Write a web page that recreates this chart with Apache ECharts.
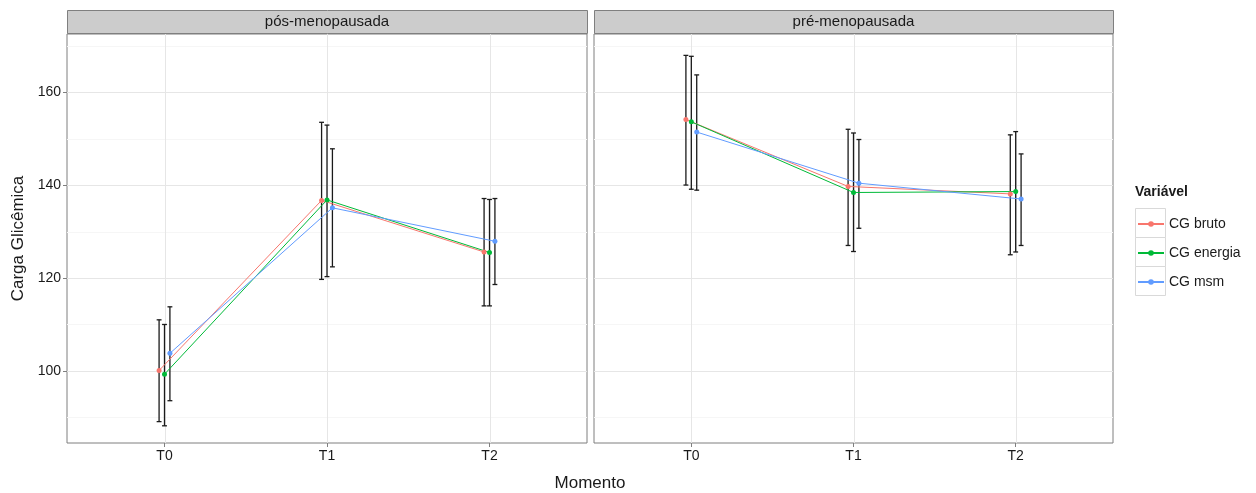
<!DOCTYPE html>
<html>
<head>
<meta charset="utf-8">
<script src="https://cdn.jsdelivr.net/npm/echarts@6/dist/echarts.min.js"></script>
<style>
html,body{margin:0;padding:0;background:#fff}
#chart{width:1256px;height:493px}
</style>
</head>
<body>
<div id="chart"></div>
<script>
// Categories
const momentos = ['T0', 'T1', 'T2'];
const grupos = ['pós-menopausada', 'pré-menopausada'];
const variaveis = ['CG bruto', 'CG energia', 'CG msm'];
const cores = ['#F8766D', '#00BA38', '#619CFF'];

// Y axis breaks
const yMajor = [100, 120, 140, 160];
const yMinor = [90, 110, 130, 150, 170];

// pós-menopausada: mean and interval limits
const posBrutoMedia = [100.1, 136.7, 125.6];
const posBrutoInf   = [89.1, 119.7, 114.0];
const posBrutoSup   = [111.0, 153.5, 137.1];
const posEnergiaMedia = [99.3, 136.8, 125.5];
const posEnergiaInf   = [88.2, 120.3, 114.0];
const posEnergiaSup   = [110.0, 152.9, 136.9];
const posMsmMedia = [103.8, 135.1, 127.9];
const posMsmInf   = [93.6, 122.4, 118.6];
const posMsmSup   = [113.8, 147.8, 137.1];

// pré-menopausada: mean and interval limits
const preBrutoMedia = [154.1, 139.7, 138.1];
const preBrutoInf   = [140.0, 127.0, 125.0];
const preBrutoSup   = [167.9, 152.0, 150.8];
const preEnergiaMedia = [153.6, 138.4, 138.6];
const preEnergiaInf   = [139.1, 125.7, 125.6];
const preEnergiaSup   = [167.7, 151.2, 151.5];
const preMsmMedia = [151.4, 140.4, 137.0];
const preMsmInf   = [138.9, 130.7, 127.0];
const preMsmSup   = [163.7, 149.8, 146.7];

const painelDados = [
  [[posBrutoMedia, posBrutoInf, posBrutoSup],
   [posEnergiaMedia, posEnergiaInf, posEnergiaSup],
   [posMsmMedia, posMsmInf, posMsmSup]],
  [[preBrutoMedia, preBrutoInf, preBrutoSup],
   [preEnergiaMedia, preEnergiaInf, preEnergiaSup],
   [preMsmMedia, preMsmInf, preMsmSup]]
];

// layout
const PANEL_TOP = 34, PANEL_H = 409;
const panels = [{left: 67, width: 520}, {left: 594, width: 519}];
const DODGE = 0.1;          // total dodge width in category units
const ERR_W = 0.03;         // error bar cap width in category units
const FONT = '"Liberation Sans", Arial, sans-serif';
const TXT = '#1a1a1a';

const chart = echarts.init(document.getElementById('chart'), null, {renderer: 'canvas'});

const grid = panels.map(p => ({
  left: p.left, top: PANEL_TOP, width: p.width, height: PANEL_H,
  show: true, backgroundColor: '#fff', borderColor: '#7f7f7f', borderWidth: 1,
  containLabel: false
}));

const xAxis = panels.map((p, k) => ({
  type: 'value', gridIndex: k, min: 0.4, max: 3.6,
  axisLine: {show: false},
  splitLine: {show: false},
  axisTick: {show: true, length: 4, customValues: [1, 2, 3], lineStyle: {color: '#7f7f7f'}},
  axisLabel: {
    customValues: [1, 2, 3], margin: 6,
    formatter: v => momentos[Math.round(v) - 1],
    fontSize: 14, color: TXT, fontFamily: FONT
  }
}));

const yAxis = panels.map((p, k) => ({
  type: 'value', gridIndex: k, min: 84.5, max: 172.5,
  axisLine: {show: false},
  splitLine: {show: false},
  axisTick: {show: k === 0, length: 4, customValues: yMajor, lineStyle: {color: '#7f7f7f'}},
  axisLabel: {
    show: k === 0, customValues: yMajor, margin: 6,
    fontSize: 14, color: TXT, fontFamily: FONT
  },
  name: k === 0 ? 'Carga Glicêmica' : '',
  nameLocation: 'middle', nameGap: 40, nameRotate: 90,
  nameTextStyle: {fontSize: 17, color: TXT, fontFamily: FONT}
}));

// panel gridlines drawn through the axis scales
function gridRender(params, api) {
  const cs = params.coordSys;
  const v = api.value(0), dir = api.value(1), major = api.value(2);
  const style = {stroke: major ? '#e6e6e6' : '#f6f6f6', lineWidth: 1};
  if (dir === 0) {
    const y = Math.round(api.coord([2, v])[1]) + 0.5;
    return {type: 'line', shape: {x1: cs.x, y1: y, x2: cs.x + cs.width, y2: y}, style};
  }
  const x = Math.round(api.coord([v, 100])[0]) + 0.5;
  return {type: 'line', shape: {x1: x, y1: cs.y, x2: x, y2: cs.y + cs.height}, style};
}

function errRender(params, api) {
  const x = api.value(0), lo = api.value(1), hi = api.value(2);
  const pLo = api.coord([x, lo]), pHi = api.coord([x, hi]);
  const half = api.size([ERR_W, 0])[0] / 2;
  const st = {stroke: '#1a1a1a', lineWidth: 1.3};
  return {type: 'group', children: [
    {type: 'line', shape: {x1: pLo[0], y1: pLo[1], x2: pHi[0], y2: pHi[1]}, style: st},
    {type: 'line', shape: {x1: pHi[0] - half, y1: pHi[1], x2: pHi[0] + half, y2: pHi[1]}, style: st},
    {type: 'line', shape: {x1: pLo[0] - half, y1: pLo[1], x2: pLo[0] + half, y2: pLo[1]}, style: st}
  ]};
}

const series = [];
panels.forEach((p, k) => {
  const gdata = [];
  yMinor.forEach(v => gdata.push([v, 0, 0]));
  yMajor.forEach(v => gdata.push([v, 0, 1]));
  [1, 2, 3].forEach(v => gdata.push([v, 1, 1]));
  series.push({
    type: 'custom', xAxisIndex: k, yAxisIndex: k, silent: true, z: 0,
    renderItem: gridRender, data: gdata, encode: {x: -1, y: -1}, clip: false
  });
  variaveis.forEach((nome, j) => {
    const [media, inf, sup] = painelDados[k][j];
    const off = (j - 1) * DODGE / 3;
    series.push({
      type: 'custom', xAxisIndex: k, yAxisIndex: k, silent: true, z: 1,
      renderItem: errRender,
      data: momentos.map((m, i) => [i + 1 + off, inf[i], sup[i]]),
      encode: {x: 0, y: [1, 2]}
    });
    series.push({
      type: 'line', name: nome, xAxisIndex: k, yAxisIndex: k, z: 2,
      data: momentos.map((m, i) => [i + 1 + off, media[i]]),
      color: cores[j],
      lineStyle: {width: 1, color: cores[j]},
      symbol: 'circle', symbolSize: 5, showSymbol: true,
      itemStyle: {color: cores[j]},
      animation: false
    });
  });
});

const graphic = [];
panels.forEach((p, k) => {
  graphic.push({
    type: 'rect', shape: {x: p.left + 0.5, y: 10.5, width: p.width, height: 23},
    style: {fill: '#cccccc', stroke: '#7f7f7f', lineWidth: 1}
  });
  graphic.push({
    type: 'text', x: p.left + p.width / 2, y: 22,
    style: {text: grupos[k], fill: TXT, font: '15px ' + FONT, align: 'center', verticalAlign: 'middle'}
  });
});
graphic.push({
  type: 'text', x: 590, y: 483,
  style: {text: 'Momento', fill: TXT, font: '17px ' + FONT, align: 'center', verticalAlign: 'middle'}
});
graphic.push({
  type: 'text', x: 1135, y: 192,
  style: {text: 'Variável', fill: TXT, font: 'bold 14px ' + FONT, align: 'left', verticalAlign: 'middle'}
});
[0, 1, 2].forEach(i => {
  graphic.push({
    type: 'rect', z: -1, shape: {x: 1135.5, y: 208.5 + i * 29, width: 30, height: 29},
    style: {fill: '#fff', stroke: '#d9d9d9', lineWidth: 1}
  });
});

chart.setOption({
  animation: false,
  backgroundColor: '#fff',
  grid, xAxis, yAxis, series, graphic,
  legend: {
    data: variaveis, orient: 'vertical', left: 1137, top: 217, padding: 0,
    itemWidth: 26, itemHeight: 7, itemGap: 15,
    textStyle: {fontSize: 14, color: TXT, fontFamily: FONT},
    selectedMode: false
  }
});
</script>
</body>
</html>
